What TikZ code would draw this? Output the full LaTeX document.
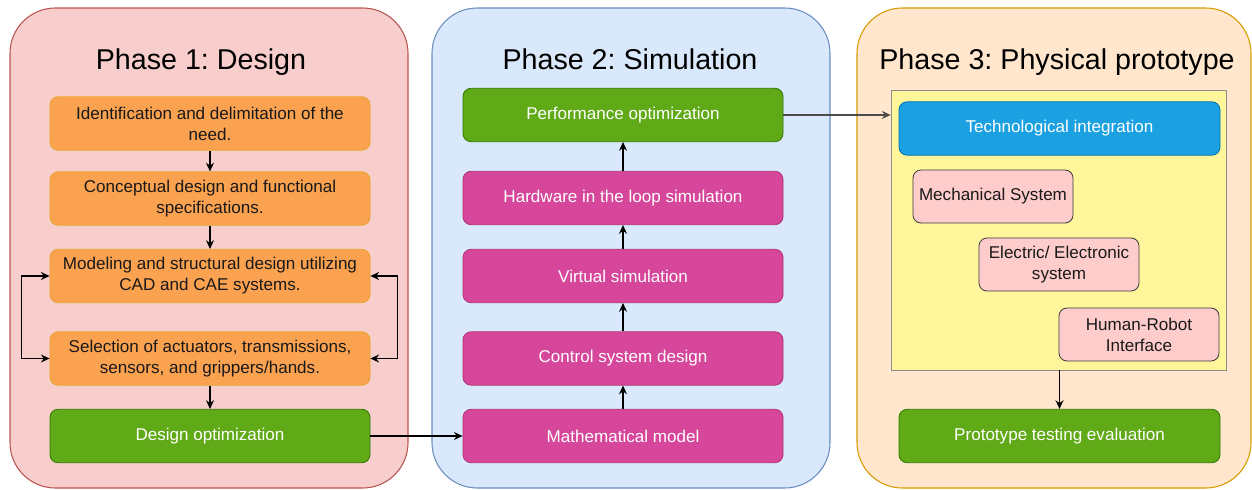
\documentclass[tikz,border=0pt]{standalone}
\usepackage{fontspec}
\setmainfont{Liberation Sans}
\usetikzlibrary{arrows.meta, positioning, calc}
\frenchspacing

\definecolor{phaseAfill}{HTML}{F8CECC}
\definecolor{phaseAline}{HTML}{B85450}
\definecolor{phaseBfill}{HTML}{DAE8FC}
\definecolor{phaseBline}{HTML}{6C8EBF}
\definecolor{phaseCfill}{HTML}{FFE6CC}
\definecolor{phaseCline}{HTML}{D79B00}
\definecolor{orangefill}{HTML}{FBA250}
\definecolor{orangeline}{HTML}{E6A52A}
\definecolor{greenfill}{HTML}{60A917}
\definecolor{greenline}{HTML}{2D7600}
\definecolor{pinkfill}{HTML}{D6469A}
\definecolor{pinkline}{HTML}{B0306F}
\definecolor{bluefill}{HTML}{1BA1E2}
\definecolor{blueline}{HTML}{006EAF}
\definecolor{yelfill}{HTML}{FFF59B}
\definecolor{yelline}{HTML}{8C8C8C}
\definecolor{rosefill}{HTML}{FFCCCC}
\definecolor{roseline}{HTML}{36393D}

\tikzset{
  phase/.style={line width=0.8pt, rounded corners=34pt},
  phasetitle/.style={font=\fontsize{21.5}{25}\selectfont, text=black, anchor=base},
  stepbox/.style={rectangle, rounded corners=6pt, minimum width=240pt,
    minimum height=40pt, align=center, line width=0.6pt, inner sep=2pt,
    font=\fontsize{12.8}{15.8}\selectfont},
  orangebox/.style={stepbox, fill=orangefill, draw=orangeline, text=black!90},
  greenbox/.style={stepbox, fill=greenfill, draw=greenline, text=white},
  pinkbox/.style={stepbox, fill=pinkfill, draw=pinkline, text=white},
  bluebox/.style={stepbox, fill=bluefill, draw=blueline, text=white},
  subbox/.style={rectangle, rounded corners=6pt, minimum width=120pt,
    minimum height=39.75pt, align=center, line width=0.6pt, inner sep=2pt,
    fill=rosefill, draw=roseline, text=black!90,
    font=\fontsize{12.8}{15.8}\selectfont},
  link/.style={-{Stealth[length=6.5pt,width=6pt]}, line width=0.9pt}
}

\begin{document}
\begin{tikzpicture}[x=0.75pt, y=-0.75pt]
\useasboundingbox (0,0) rectangle (1252,489);

% phase containers
\draw[phase, fill=phaseAfill, draw=phaseAline] (10,8) rectangle (408,488);
\draw[phase, fill=phaseBfill, draw=phaseBline] (432,8) rectangle (830,488);
\draw[phase, fill=phaseCfill, draw=phaseCline] (857,8) rectangle (1251,488);
\node[phasetitle] (t1) at (201,69) {Phase 1: Design};
\node[phasetitle] (t2) at (630,69) {Phase 2: Simulation};
\node[phasetitle] (t3) at (1057,69) {Phase 3: Physical prototype};

% phase 1
\node[orangebox] (d1) at (210,123.5) {Identification and delimitation of the\\need.};
\node[orangebox] (d2) at (210,198.5) {Conceptual design and functional\\specifications.};
\node[orangebox] (d3) at (210,276) {Modeling and structural design utilizing\\CAD and CAE systems.};
\node[orangebox] (d4) at (210,358.5) {Selection of actuators, transmissions,\\sensors, and grippers/hands.};
\node[greenbox] (d5) at (210,436) {Design optimization};

% phase 2
\node[greenbox] (s1) at (623,115) {Performance optimization};
\node[pinkbox] (s2) at (623,198) {Hardware in the loop simulation};
\node[pinkbox] (s3) at (623,276) {Virtual simulation};
\node[pinkbox] (s4) at (623,358.5) {Control system design};
\node[pinkbox] (s5) at (623,436) {Mathematical model};

% phase 3
\node[rectangle, fill=yelfill, draw=yelline, line width=0.6pt,
  minimum width=251.25pt, minimum height=210pt] (yel) at (1058.5,230) {};
\node[bluebox, minimum width=240.75pt] (p1) at (1059.5,128.5) {Technological integration};
\node[subbox] (p2) at (993,196.5) {Mechanical System};
\node[subbox] (p3) at (1059,264.5) {Electric/ Electronic\\system};
\node[subbox] (p4) at (1139,334.5) {Human-Robot\\Interface};
\node[greenbox, minimum width=240.75pt] (p5) at (1059.5,436) {Prototype testing evaluation};

% connectors
\draw[link] (d1) -- (d2);
\draw[link] (d2) -- (d3);
\draw[link] (d4) -- (d5);
\draw[link, {Stealth[length=6.5pt,width=6pt]}-{Stealth[length=6.5pt,width=6pt]}]
  (d3.west) -- ++(-28,0) |- (d4.west);
\draw[link, {Stealth[length=6.5pt,width=6pt]}-{Stealth[length=6.5pt,width=6pt]}]
  (d3.east) -- ++(27,0) |- (d4.east);
\draw[link] (d5) -- (s5);
\foreach \a/\b in {s5/s4, s4/s3, s3/s2, s2/s1}
  \draw[link] (\a) -- (\b);
\draw[link, draw=black!70] (s1.east) -- (s1.east -| yel.west);
\draw[link] (yel.south -| p5.north) -- (p5.north);
\end{tikzpicture}
\end{document}
